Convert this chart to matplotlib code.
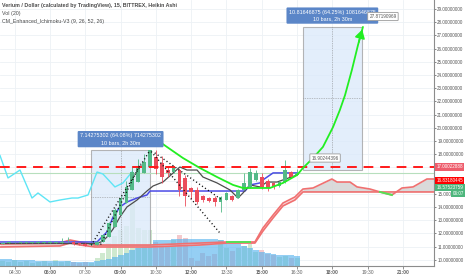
import matplotlib
matplotlib.use("Agg")
import matplotlib.pyplot as plt
import numpy as np
from matplotlib.patches import Rectangle

plt.rcParams['font.family'] = ['Liberation Sans', 'DejaVu Sans']

# ---------------- data ----------------
bar_start = 4.0          # hours (04:00)
bar_step = 0.25          # 15-minute bars
ha_open = [11.22, 11.26, 11.25, 11.27, 11.27, 11.28, 11.28, 11.29, 11.30, 11.30, 11.30, 11.32,
           11.36, 11.26, 11.22, 11.14,
           11.12, 11.35, 11.73, 12.48, 13.39, 14.30, 15.29, 15.89, 16.58, 17.03,
           17.75, 17.30, 16.80, 16.65, 16.80, 16.20, 15.45, 15.30, 14.80, 14.65, 14.70, 14.40,
           14.55, 14.80, 14.70, 15.30, 15.50, 16.05, 16.30, 16.00, 15.80, 15.60, 15.90, 16.65, 16.45]
ha_close = [11.30, 11.30, 11.31, 11.30, 11.32, 11.31, 11.33, 11.33, 11.34, 11.33, 11.36, 11.38,
            11.18, 11.20, 11.08, 11.18,
            11.35, 11.88, 12.79, 13.77, 14.68, 15.52, 16.65, 17.03, 17.41, 18.32,
            16.90, 16.25, 16.60, 16.95, 15.30, 14.80, 15.10, 14.40, 14.55, 14.48, 14.35, 14.75,
            15.06, 14.55, 15.30, 15.82, 16.65, 16.58, 15.50, 15.45, 15.50, 15.90, 16.80, 16.30, 16.58]
ha_high = [11.33, 11.34, 11.36, 11.33, 11.38, 11.34, 11.40, 11.36, 11.45, 11.38, 11.62, 11.72,
           11.40, 11.30, 11.24, 11.22,
           11.40, 11.95, 12.85, 13.90, 14.85, 15.95, 17.10, 17.60, 18.00, 18.35,
           18.30, 17.90, 17.00, 17.05, 16.90, 16.40, 15.55, 15.50, 14.90, 14.75, 14.80, 14.85,
           15.15, 14.90, 15.40, 16.58, 16.95, 16.80, 16.60, 16.10, 15.90, 16.00, 17.56, 16.75, 16.90]
ha_low = [11.22, 11.26, 11.25, 11.27, 11.27, 11.28, 11.28, 11.29, 11.30, 11.30, 11.30, 11.32,
          11.15, 11.12, 11.05, 11.14,
          11.12, 11.35, 11.73, 12.48, 13.39, 14.30, 15.29, 15.89, 16.58, 17.03,
          16.50, 15.80, 16.30, 16.55, 14.80, 14.10, 14.60, 14.20, 14.40, 14.40, 14.10, 13.65,
          14.50, 14.45, 14.65, 15.25, 15.45, 16.00, 15.40, 15.20, 15.40, 15.50, 15.85, 16.20, 16.40]
volume = [5, 4, 6, 4, 5, 3, 4, 5, 3, 6, 4, 5, 4, 3, 4, 3,
          8, 13, 23, 30, 36, 40, 69, 38, 36, 36,
          24, 22, 20, 26, 31, 28, 8, 5, 13, 10, 12, 26, 18, 15, 18, 20, 22, 14, 16, 12, 11, 9, 10, 8, 8]
volume_ma = [7, 7, 6, 6, 6, 6, 5, 5, 5, 5, 5, 5, 4, 4, 4, 4,
             5, 6, 7, 9, 11, 13, 16, 18, 19, 21,
             26, 26, 26, 27, 27, 27, 27, 27, 27, 27, 27, 26, 24, 23, 23, 20, 18, 16, 14, 13, 12, 11, 11, 11, 10]

lag_t = [3.875, 4.215, 4.725, 5.235, 5.49, 6.0, 6.425, 6.935, 7.19, 7.615, 8.0, 8.25, 8.76, 9.10, 9.485]
lag_p = [17.90, 16.20, 16.80, 14.68, 15.06, 14.38, 14.53, 14.68, 14.68, 14.91, 16.65, 16.50, 15.52, 15.82, 16.65]

kijun_t = [3.875, 8.0, 8.42, 8.68, 8.97, 9.27, 9.70, 10.12, 10.25, 14.29, 14.5, 14.92, 15.05, 15.48, 16.5]
kijun_p = [11.35, 11.35, 12.11, 13.24, 14.0, 14.38, 14.68, 14.91, 15.21, 15.21, 15.67, 15.82, 16.05, 16.58, 16.58]

tenkan_t = [3.875, 8.0, 8.25, 8.46, 8.68, 8.97, 9.27, 9.70, 10.12, 10.38, 10.80, 11.52, 11.82, 12.25,
            12.50, 13.10, 13.65, 13.99, 14.20, 14.50, 14.92, 15.22, 15.65, 15.90, 16.50]
tenkan_p = [11.23, 11.23, 11.42, 11.80, 12.33, 13.24, 14.0, 14.53, 15.21, 15.59, 15.89, 17.03, 16.80, 16.80,
            16.27, 15.82, 15.29, 14.68, 15.06, 15.67, 15.52, 15.89, 15.89, 16.05, 16.42]

span_a_t = [3.875, 6.425, 6.85, 7.275, 7.91, 10.25, 12.375, 13.52, 14.71, 15.05, 15.48, 15.90, 16.41, 16.75,
            17.18, 17.98, 18.20, 18.75, 19.05, 19.60, 20.02, 20.53, 20.96, 21.43, 22.02, 22.32]
span_a_p = [11.20, 11.27, 11.50, 11.35, 11.12, 11.12, 11.27, 11.35, 11.35, 12.41, 13.39, 14.30, 14.76, 15.36,
            15.44, 16.12, 15.89, 15.89, 15.52, 15.36, 15.14, 14.91, 15.44, 15.52, 16.12, 16.12]
span_b_t = [3.875, 6.425, 6.85, 7.275, 7.91, 10.25, 12.375, 13.52, 14.71, 15.05, 15.48, 15.90, 16.41, 16.75, 22.32]
span_b_p = [10.97, 11.05, 11.27, 11.12, 10.97, 10.97, 11.12, 11.27, 11.27, 12.18, 13.17, 14.08, 14.53, 15.14, 15.14]
span_green1_t = [13.52, 14.5]
span_green1_p = [11.35, 11.35]
span_green2_t = [20.02, 20.53]
span_green2_p = [15.14, 14.91]

curve_t = [10.25, 10.97, 11.65, 12.375, 13.10, 13.78, 14.20, 14.80, 15.35, 15.90, 16.50, 16.75, 17.18,
           17.60, 18.03, 18.32, 18.54, 18.83, 19.09, 19.30]
curve_p = [19.45, 18.55, 17.71, 16.95, 16.27, 15.67, 15.44, 15.44, 15.44, 15.82, 16.42, 16.95, 17.71,
           18.55, 20.06, 21.35, 22.48, 24.38, 26.27, 27.64]

resistance = 17.00022888
last_price = 16.57523759

measure1 = dict(t0=7.75, t1=10.25, p0=11.15, p1=18.29,
                text="7.14275302 (64.08%) 714275302\n10 bars, 2h 30m")
measure2 = dict(t0=16.75, t1=19.25, p0=16.835, p1=27.65,
                text="10.81646875 (64.25%) 1081646875\n10 bars, 2h 30m")

trend_lines = [((7.75, 11.10), (10.25, 18.30)),
               ((8.15, 11.15), (9.85, 17.30)),
               ((10.30, 18.20), (13.22, 12.03)),
               ((10.45, 18.10), (13.31, 14.53))]

tick_times = [4.5, 6, 7.5, 9, 10.5, 12, 13.5, 15, 16.5, 18, 19.5, 21]
tick_labels = ["04:30", "06:00", "07:30", "09:00", "10:30", "12:00", "13:30", "15:00",
               "16:30", "18:00", "19:30", "21:00"]
price_ticks = list(range(10, 30))

# ---------------- layout ----------------
W, H = 466, 275
PX_RIGHT, PX_BOTTOM = 434, 266
T_MIN, T_MAX = 3.875, 22.32
P_MIN, P_MAX = 9.53, 29.68

fig = plt.figure(figsize=(W / 100, H / 100), dpi=100)
fig.patch.set_facecolor('white')
pos = [0, 1 - PX_BOTTOM / H, PX_RIGHT / W, PX_BOTTOM / H]
axv = fig.add_axes(pos)
ax = fig.add_axes(pos, sharex=axv)
ax.patch.set_alpha(0)

ax.set_xlim(T_MIN, T_MAX)
ax.set_ylim(P_MIN, P_MAX)
axv.set_ylim(0, PX_BOTTOM)
axv.set_yticks([])
axv.tick_params(axis='x', length=0, labelbottom=False)
for s in axv.spines.values():
    s.set_visible(False)

# grid (drawn beneath volume)
gcol = '#edf1f5'
for t in tick_times:
    axv.axvline(t, color=gcol, lw=0.6, zorder=0)
for p in price_ticks:
    axv.plot([T_MIN, T_MAX], [p, p], transform=ax.transData, color=gcol, lw=0.6, zorder=0)

# volume
times = [bar_start + i * bar_step for i in range(len(ha_open))]
vol_colors = ['#cfe9cf' if c >= o else '#f4c9cc' for o, c in zip(ha_open, ha_close)]
axv.bar(times, volume, width=0.21, color=vol_colors, zorder=1)
axv.bar(times, volume_ma, width=0.25, color='#4fb0ee', alpha=0.6, zorder=2, linewidth=0)

# measurement boxes
for m in (measure1, measure2):
    ax.add_patch(Rectangle((m['t0'], m['p0']), m['t1'] - m['t0'], m['p1'] - m['p0'],
                           facecolor='#dceafa', alpha=0.8, edgecolor='#a3a3a3', lw=0.8, zorder=1))
    tm = (m['t0'] + m['t1']) / 2
    pm = (m['p0'] + m['p1']) / 2
    ax.plot([tm, tm], [m['p0'], m['p1']], color='#8a8a8a', lw=0.5, ls=(0, (1, 1.5)), zorder=1.5)
    ax.plot([m['t0'], m['t1']], [pm, pm], color='#8a8a8a', lw=0.5, ls=(0, (1, 1.5)), zorder=1.5)
    ax.text(tm, m['p1'] + 0.85, m['text'], ha='center', va='center', fontsize=3.9, color='white',
            linespacing=1.35, zorder=10,
            bbox=dict(boxstyle='round,pad=0.45,rounding_size=0.2', fc='#5b86c8', ec='none'))

# horizontal lines
ax.axhline(last_price, color='#b7dfbd', lw=0.8, zorder=2)
ax.axhline(resistance, color='#ff1a1a', lw=1.4, ls=(0, (5, 3.5)), zorder=6)

# cloud
tt = np.union1d(span_a_t, span_b_t)
aa = np.interp(tt, span_a_t, span_a_p)
bb = np.interp(tt, span_b_t, span_b_p)
ax.fill_between(tt, aa, bb, where=tt <= 16.76, color='#f6cdd0', alpha=0.7, zorder=2, lw=0)
ax.fill_between(tt, aa, bb, where=tt >= 16.74, color='#d6d6d6', alpha=0.9, zorder=2, lw=0)
ax.plot(span_a_t, span_a_p, color='#f07070', lw=1.2, zorder=3)
ax.plot(span_b_t, span_b_p, color='#f07070', lw=1.2, zorder=3)
ax.plot(span_green1_t, span_green1_p, color='#55e055', lw=1.4, zorder=3.5)
ax.plot(span_green2_t, span_green2_p, color='#55e055', lw=1.4, zorder=3.5)

# lagging span, kijun, tenkan
ax.plot(lag_t, lag_p, color='#5ee5f5', lw=1.0, zorder=3)
ax.plot(kijun_t, kijun_p, color='#4b4be6', lw=1.1, zorder=4)
ax.plot(tenkan_t, tenkan_p, color='#4d4d4d', lw=0.9, zorder=4)

# dotted trend lines
for (t0, p0), (t1, p1) in trend_lines:
    ax.plot([t0, t1], [p0, p1], color='#111111', lw=1.0, ls=(0, (0.8, 1.8)), zorder=7)

# candles (Heikin Ashi)
for t, o, c, h, l in zip(times, ha_open, ha_close, ha_high, ha_low):
    col = '#53b987' if c >= o else '#eb4d5c'
    ax.vlines(t, l, h, color=col, lw=0.6, zorder=5)
    body = max(abs(c - o), 0.06)
    ax.bar(t, body, bottom=min(o, c), width=0.16, color=col, zorder=5, linewidth=0)

# projected green curve with arrow
ax.plot(curve_t, curve_p, color='#22ee22', lw=1.3, zorder=8, solid_capstyle='round')
ax.annotate('', xy=(curve_t[-1], curve_p[-1]), xytext=(curve_t[-2], curve_p[-2]),
            arrowprops=dict(arrowstyle='-|>,head_length=0.5,head_width=0.3', color='#22ee22', lw=1.2),
            zorder=8)

# small price callouts
ax.text(17.69, 17.71, "16.90244396", fontsize=3.3, color='#555555', ha='center', va='center', zorder=9,
        bbox=dict(boxstyle='round,pad=0.35,rounding_size=0.15', fc='white', ec='#9a9a9a', lw=0.6))
ax.text(20.15, 28.43, "27.87190969", fontsize=3.3, color='#555555', ha='center', va='center', zorder=12,
        bbox=dict(boxstyle='round,pad=0.35,rounding_size=0.15', fc='white', ec='#9a9a9a', lw=0.6))

# axes styling
ax.yaxis.tick_right()
ax.set_yticks(price_ticks)
ax.set_yticklabels(["%.8f" % p for p in price_ticks])
ax.set_xticks(tick_times)
ax.set_xticklabels(tick_labels)
for lbl, t in zip(ax.get_xticklabels(), tick_times):
    if t % 3 == 0:
        lbl.set_fontweight('bold')
        lbl.set_color('#444444')
ax.tick_params(axis='y', labelsize=3.25, colors='#555555', length=1.5, width=0.5, pad=0.8)
ax.tick_params(axis='x', labelsize=3.6, colors='#666666', length=2, width=0.5, pad=1)
for s in ('top', 'left'):
    ax.spines[s].set_visible(False)
ax.spines['right'].set_color('#8c8c8c')
ax.spines['bottom'].set_color('#8c8c8c')
ax.spines['right'].set_linewidth(0.8)
ax.spines['bottom'].set_linewidth(0.8)

# right-axis price labels
def fy(px):
    return 1 - px / H

lab_kw = dict(fontsize=3.25, color='white', va='center', ha='left', zorder=20)
fig.text(436.5 / W, fy(167), "17.00022888", bbox=dict(boxstyle='square,pad=0.25', fc='#ee5d6c', ec='none'), **lab_kw)
fig.text(436.5 / W, fy(181), "16.83180445", bbox=dict(boxstyle='square,pad=0.25', fc='#ff0000', ec='none'), **lab_kw)
fig.text(436.5 / W, fy(187.3), "16.57523759", bbox=dict(boxstyle='square,pad=0.25', fc='#4db67c', ec='none'), **lab_kw)
fig.text(452.5 / W, fy(193.6), "06:07", bbox=dict(boxstyle='square,pad=0.25', fc='#4db67c', ec='none'), **lab_kw)

# header texts
hdr = dict(fontsize=3.8, color='#4a4a4a', ha='left', va='center')
fig.text(2 / W, fy(5), "Verium / Dollar (calculated by TradingView), 15, BITTREX, Heikin Ashi",
         fontweight='bold', **hdr)
fig.text(2 / W, fy(13), "Vol (20)", **hdr)
fig.text(2 / W, fy(21), "CM_Enhanced_Ichimoku-V3 (9, 26, 52, 26)", **hdr)

fig.savefig("out.png", dpi=100)
